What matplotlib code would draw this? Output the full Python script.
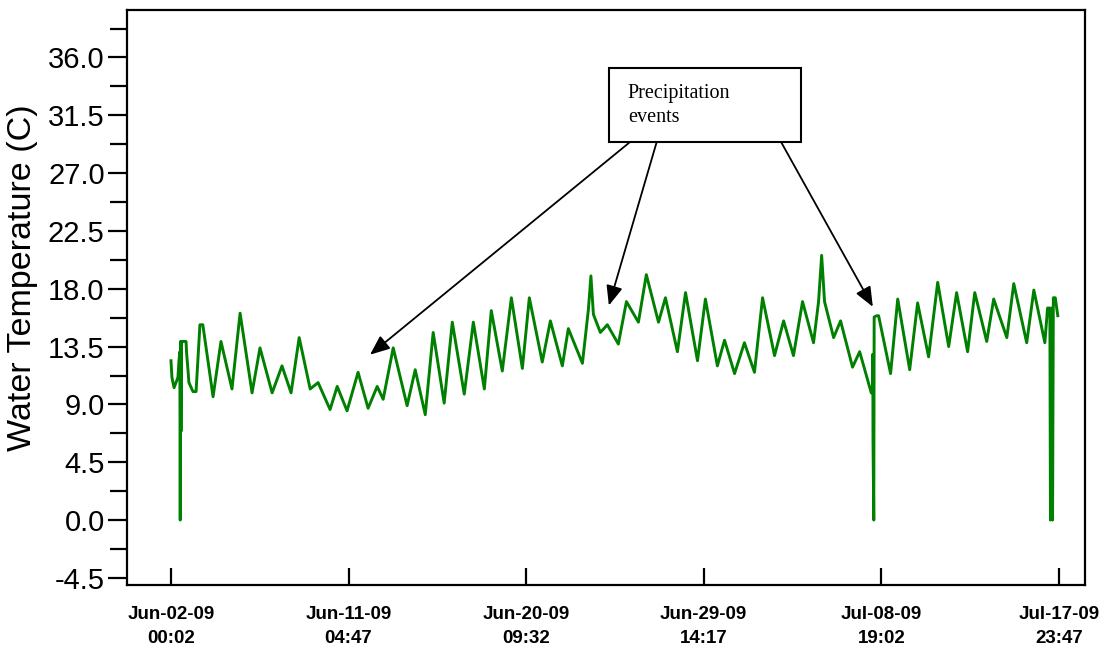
import matplotlib
matplotlib.use('Agg')
import matplotlib.pyplot as plt
from matplotlib.patches import Rectangle

# elapsed time (days since Jun-02-09 00:02) and water temperature (C)
days = [0.00, 0.05, 0.16, 0.36, 0.42, 0.46, 0.48, 0.50, 0.52, 0.55, 0.78, 0.81, 0.88, 0.93,
        1.14, 1.30, 1.50, 1.65, 2.18, 2.59, 3.16, 3.58, 4.20, 4.61, 5.24, 5.75, 6.22, 6.64,
        7.21, 7.62, 8.24, 8.61, 9.12, 9.69, 10.21, 10.68, 10.99, 11.51, 12.23, 12.65, 13.17,
        13.58, 14.15, 14.57, 15.19, 15.66, 16.23, 16.59, 17.16, 17.63, 18.20, 18.56, 19.23,
        19.65, 20.27, 20.58, 21.31, 21.62, 21.75, 21.88, 22.24, 22.60, 23.17, 23.59, 24.21,
        24.62, 25.25, 25.61, 26.23, 26.65, 27.27, 27.68, 28.30, 28.67, 29.19, 29.70, 30.22,
        30.64, 31.26, 31.73, 32.24, 32.71, 33.28, 33.54, 33.70, 33.85, 34.32, 34.68, 35.30,
        35.67, 36.27, 36.33, 36.35, 36.36, 36.40, 36.42, 36.55, 36.65, 37.27, 37.64, 38.26,
        38.67, 39.24, 39.71, 40.28, 40.69, 41.26, 41.63, 42.25, 42.61, 43.29, 43.65, 44.32,
        44.69, 45.26, 45.40, 45.52, 45.55, 45.60, 45.66, 45.70, 45.80, 45.93]
temps = [12.4, 11.1, 10.3, 11.1, 12.5, 13.1, 0.0, 13.9, 6.9, 13.9, 13.9, 13.0, 11.7, 10.7,
         10.0, 10.0, 15.2, 15.2, 9.6, 13.9, 10.2, 16.1, 9.9, 13.4, 9.9, 12.0, 9.9, 14.2,
         10.2, 10.7, 8.6, 10.4, 8.5, 11.5, 8.7, 10.4, 9.4, 13.4, 8.9, 11.7, 8.2,
         14.6, 9.1, 15.4, 9.8, 15.4, 10.2, 16.3, 11.6, 17.3, 11.8, 17.3, 12.3,
         15.5, 12.0, 14.9, 12.2, 16.4, 19.0, 16.0, 14.6, 15.2, 13.7, 17.0, 15.4,
         19.1, 15.4, 17.3, 13.1, 17.7, 12.4, 17.2, 12.0, 14.0, 11.4, 13.8, 11.5,
         17.3, 12.8, 15.5, 12.8, 17.0, 13.8, 17.0, 20.6, 17.0, 14.2, 15.5, 11.9,
         13.1, 9.9, 9.9, 12.9, 6.3, 0.0, 15.8, 15.9, 15.9, 11.4, 17.2, 11.7,
         16.9, 12.7, 18.5, 13.5, 17.7, 13.1, 17.7, 13.9, 17.2, 14.2, 18.4, 13.8,
         17.9, 13.8, 16.5, 16.5, 0.0, 16.5, 0.0, 17.3, 17.3, 15.9]

# x tick positions (days) and labels
tick_days = [0, 9.1979, 18.3958, 27.5938, 36.7917, 45.9896]
tick_labels = ['Jun-02-09\n00:02', 'Jun-11-09\n04:47', 'Jun-20-09\n09:32',
               'Jun-29-09\n14:17', 'Jul-08-09\n19:02', 'Jul-17-09\n23:47']
y_major = [-4.5, 0.0, 4.5, 9.0, 13.5, 18.0, 22.5, 27.0, 31.5, 36.0]
y_minor = [-2.25, 2.25, 6.75, 11.25, 15.75, 20.25, 24.75, 29.25, 33.75, 38.25]

# annotation arrow targets (day, temp)
arrow_days = [10.31, 22.68, 36.35]
arrow_temps = [12.87, 16.7, 16.6]
arrow_start_x = [0.525, 0.553, 0.683]

plt.rcParams['font.family'] = ['Liberation Sans', 'DejaVu Sans']

fig = plt.figure(figsize=(11.01, 6.52), dpi=100)
ax = fig.add_axes([0.1153, 0.1028, 0.870, 0.882])

ax.plot(days, temps, color='#008000', lw=2.1)

ax.set_xlim(-2.28, 47.33)
ax.set_ylim(-5.05, 39.7)

ax.set_yticks(y_major)
ax.set_yticklabels(['%.1f' % v for v in y_major], fontsize=21)
ax.set_yticks(y_minor, minor=True)
ax.tick_params(axis='y', which='major', direction='out', length=14, width=1.6, pad=2)
ax.tick_params(axis='y', which='minor', direction='out', length=12, width=1.6)

ax.set_xticks(tick_days)
ax.set_xticklabels(tick_labels, fontsize=13.5, fontweight='bold', linespacing=1.55)
ax.tick_params(axis='x', direction='in', length=12, width=1.6, pad=15)

for sp in ax.spines.values():
    sp.set_linewidth(1.6)

ax.set_ylabel('Water Temperature (C)', fontsize=24.5)
ax.yaxis.set_label_coords(-0.0925, 0.535)

# text box with arrows to precipitation events
ax.add_patch(Rectangle((0.503, 0.770), 0.2005, 0.129, transform=ax.transAxes,
                       fill=False, lw=1.5, ec='black', zorder=5))
ax.text(0.523, 0.872, 'Precipitation\nevents', transform=ax.transAxes, va='top', ha='left',
        fontsize=14.5, family=['Liberation Serif', 'DejaVu Serif'], linespacing=1.4)
for sx, dx, ty in zip(arrow_start_x, arrow_days, arrow_temps):
    ax.annotate('', xy=(dx, ty), xycoords='data', xytext=(sx, 0.770), textcoords='axes fraction',
                arrowprops=dict(arrowstyle='-|>,head_length=0.6,head_width=0.25',
                                mutation_scale=20, lw=1.3, color='black',
                                shrinkA=0, shrinkB=0))

fig.savefig('out.png', dpi=100)
